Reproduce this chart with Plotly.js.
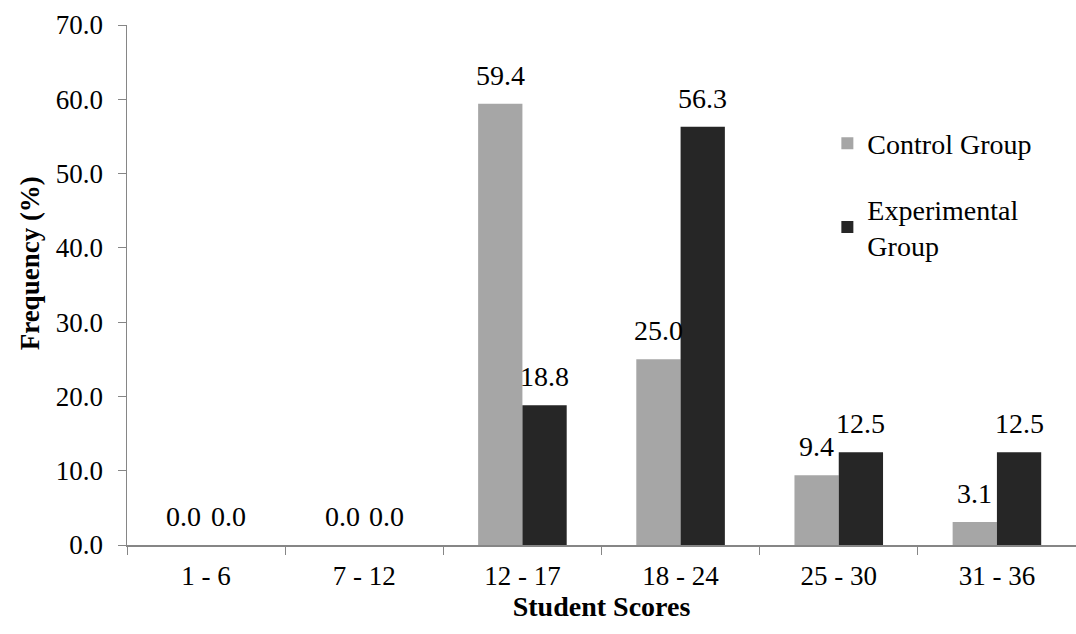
<!DOCTYPE html>
<html>
<head>
<meta charset="utf-8">
<script src="https://cdn.plot.ly/plotly-3.0.1.min.js"></script>
<style>html,body{margin:0;padding:0;background:#fff;}#chart{width:1076px;height:634px;}</style>
</head>
<body>
<div id="chart"></div>
<script>
const categories = ["1 - 6", "7 - 12", "12 - 17", "18 - 24", "25 - 30", "31 - 36"];
const controlGroup = [0.0, 0.0, 59.4, 25.0, 9.4, 3.1];
const experimentalGroup = [0.0, 0.0, 18.8, 56.3, 12.5, 12.5];
const seriesNames = ["Control Group", "Experimental<br>Group"];
const yTicks = [0, 10, 20, 30, 40, 50, 60, 70];
const xTitle = "Student Scores";
const yTitle = "Frequency (%)";

const font = "Liberation Serif";
const W = 1076, H = 634, M = {l: 127, r: 0, t: 25, b: 89};
const bargap = 0.44;
const catWidth = (W - M.l - M.r) / categories.length;
const barWidth = catWidth * (1 - bargap) / 2;

const mk = (y, name, color, group) => ({
  type: "bar", x: categories, y: y, name: name, legendgroup: group,
  marker: {color: color, line: {width: 0}},
  hoverinfo: "none"
});
const data = [
  mk(controlGroup, seriesNames[0], "#a6a6a6", "control"),
  mk(experimentalGroup, seriesNames[1], "#262626", "experimental")
];

const annotations = [];
[[controlGroup, -1], [experimentalGroup, 1]].forEach(([vals, side]) => {
  vals.forEach((v, i) => annotations.push({
    x: categories[i], y: v, xref: "x", yref: "y",
    text: v.toFixed(1), showarrow: false,
    xanchor: "center", yanchor: "bottom",
    xshift: side * barWidth / 2, yshift: 11,
    font: {family: font, size: 28, color: "#000"}
  }));
});
annotations.push({
  xref: "paper", yref: "paper", x: -0.102, y: 0.542,
  xanchor: "center", yanchor: "middle", textangle: -90, showarrow: false,
  text: "<b>" + yTitle + "</b>", font: {family: font, size: 27, color: "#000"}
});

const layout = {
  width: W, height: H,
  margin: M,
  paper_bgcolor: "#fff", plot_bgcolor: "rgba(0,0,0,0)",
  font: {family: font, size: 27, color: "#000"},
  barmode: "group", bargap: bargap, bargroupgap: 0,
  showlegend: true,
  annotations: annotations,
  legend: {x: 0.738, y: 0.82, xanchor: "left", yanchor: "top", bgcolor: "rgba(0,0,0,0)",
           font: {family: font, size: 28, color: "#000"}, tracegroupgap: 26, itemwidth: 30},
  xaxis: {
    type: "category", showline: true, linecolor: "#868686", linewidth: 1.5,
    ticks: "outside", tickson: "boundaries", ticklen: 8, tickcolor: "#868686",
    showgrid: false, zeroline: false, ticklabelstandoff: 6,
    tickfont: {family: font, size: 27, color: "#000"},
    title: {text: "<b>" + xTitle + "</b>", font: {family: font, size: 28, color: "#000"}, standoff: 2}
  },
  yaxis: {
    range: [0, 70], tickvals: yTicks, ticktext: yTicks.map(v => v.toFixed(1)),
    showline: true, linecolor: "#868686", linewidth: 1.5,
    ticks: "outside", ticklen: 8, tickcolor: "#868686",
    showgrid: false, zeroline: false, ticklabelstandoff: 9,
    tickfont: {family: font, size: 27, color: "#000"}
  }
};
Plotly.newPlot("chart", data, layout, {displayModeBar: false, staticPlot: true});
</script>
</body>
</html>
